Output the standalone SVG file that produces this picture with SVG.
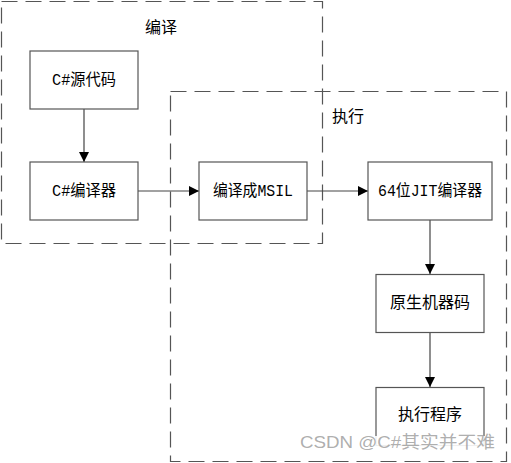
<svg xmlns="http://www.w3.org/2000/svg" width="511" height="463" viewBox="0 0 511 463">
<defs>
<style>
.grp{fill:none;stroke:#555;stroke-width:1.2;stroke-dasharray:16 8}
.box rect{fill:#fff;stroke:#555;stroke-width:1.2}
.t{font-family:"Liberation Mono","Noto Sans CJK SC",monospace;font-size:16px;fill:#000;text-anchor:middle;dominant-baseline:central}
.conn line{stroke:#444;stroke-width:1.2}
.wm{font-family:"Liberation Sans","Noto Sans CJK SC",sans-serif;font-size:17px;fill:#999;fill-opacity:0.8;dominant-baseline:central}
</style>
<marker id="ah" markerWidth="10" markerHeight="10" refX="10" refY="5" orient="auto" markerUnits="userSpaceOnUse">
<path d="M0,0 L10,5 L0,10 Z" fill="#000"/>
</marker>
</defs>
<rect width="511" height="463" fill="#fff"/>
<g id="group-compile">
<rect class="grp" x="1.5" y="1.5" width="321" height="242"/>
<text class="t" x="161" y="29">编译</text>
</g>
<g id="group-execute">
<rect class="grp" x="170.5" y="91.5" width="336" height="370"/>
<text class="t" x="348" y="118">执行</text>
</g>
<g id="connectors" class="conn">
<line x1="84" y1="109" x2="84" y2="162" marker-end="url(#ah)"/>
<line x1="138" y1="191" x2="199" y2="191" marker-end="url(#ah)"/>
<line x1="307" y1="191" x2="368" y2="191" marker-end="url(#ah)"/>
<line x1="430" y1="220" x2="430" y2="274" marker-end="url(#ah)"/>
<line x1="430" y1="333" x2="430" y2="387" marker-end="url(#ah)"/>
</g>
<g id="n-source" class="box">
<rect x="30" y="51" width="108" height="58"/>
<text class="t" x="84" y="81" textLength="64" lengthAdjust="spacingAndGlyphs">C#源代码</text>
</g>
<g id="n-csc" class="box">
<rect x="30" y="162" width="108" height="58"/>
<text class="t" x="84" y="192" textLength="64" lengthAdjust="spacingAndGlyphs">C#编译器</text>
</g>
<g id="n-msil" class="box">
<rect x="199" y="162" width="108" height="58"/>
<text class="t" x="253" y="192" textLength="80" lengthAdjust="spacingAndGlyphs">编译成MSIL</text>
</g>
<g id="n-jit" class="box">
<rect x="368" y="162" width="124" height="58"/>
<text class="t" x="430" y="192" textLength="104" lengthAdjust="spacingAndGlyphs">64位JIT编译器</text>
</g>
<g id="n-native" class="box">
<rect x="376" y="274.5" width="108" height="58"/>
<text class="t" x="430" y="304">原生机器码</text>
</g>
<g id="n-run" class="box">
<rect x="376" y="387.5" width="108" height="58"/>
<text class="t" x="430" y="416">执行程序</text>
</g>
<rect x="298" y="436" width="202" height="19" fill="#fff" fill-opacity="0.9"/>
<text class="wm" x="300" y="442" textLength="195" lengthAdjust="spacingAndGlyphs">CSDN @C#其实并不难</text>
</svg>
